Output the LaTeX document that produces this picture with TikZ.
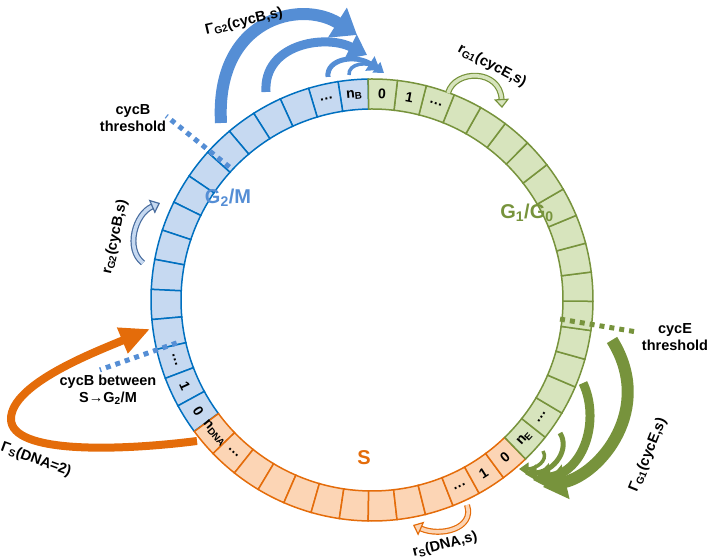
\documentclass[tikz,border=0pt]{standalone}
\usepackage{fontspec}
\setmainfont{Liberation Sans}
\usetikzlibrary{arrows.meta}

\definecolor{blueline}{RGB}{0,112,192}
\definecolor{bluefill}{RGB}{198,217,241}
\definecolor{bluearrow}{RGB}{85,142,213}
\definecolor{bluedark}{RGB}{72,108,158}
\definecolor{greenline}{RGB}{119,147,60}
\definecolor{greenfill}{RGB}{215,228,189}
\definecolor{orangeline}{RGB}{228,108,10}
\definecolor{orangefill}{RGB}{252,213,181}

% one cell of the ring: style, start angle, width in degrees
\newcommand\ringcell[3]{%
  \draw[#1] ({#2}:191) -- ({#2}:221)
    arc[start angle={#2},delta angle={#3},radius=221pt]
    -- ({#2+#3}:191)
    arc[start angle={#2+#3},delta angle={-#3},radius=191pt] -- cycle;}

\tikzset{
  cellB/.style={draw=blueline,fill=bluefill,line width=1.5pt},
  cellS/.style={draw=orangeline,fill=orangefill,line width=1.5pt},
  cellG/.style={draw=greenline,fill=greenfill,line width=1.5pt},
  celltext/.style={font=\fontsize{14}{14}\selectfont\bfseries,inner sep=0pt},
  lbl/.style={font=\fontsize{14.5}{17}\selectfont\bfseries,align=center,inner sep=0pt},
  phase/.style={font=\fontsize{20}{20}\selectfont\bfseries,inner sep=0pt},
  thresh/.style={line width=5pt,dash pattern=on 5pt off 5pt},
  leap/.style={line width=#1,-{Triangle[length=4pt 1.6,width=4pt 2.5]}},
  hollow/.style 2 args={draw=#1,double=#2,line width=1.2pt,double distance=3.6pt,
    -{Triangle[length=9pt,width=15pt,fill=#2,line width=1.2pt]}}
}

\begin{document}
\begin{tikzpicture}[x=1pt,y=1pt]
  \useasboundingbox (0,0) rectangle (711,559);

  % cell ring: G2/M, S, G1/G0
  \begin{scope}[shift={(372,259)}]
    \foreach \i [evaluate=\i as \a using 91+\i*7.84] in {0,...,15}
      {\ringcell{cellB}{\a}{7.84}}
    \foreach \i [evaluate=\i as \a using 216.5+\i*7.5] in {0,...,12}
      {\ringcell{cellS}{\a}{7.5}}
    \foreach \i [evaluate=\i as \a using 314+\i*7.6111] in {0,...,17}
      {\ringcell{cellG}{\a}{7.6111}}

    \foreach \a/\t/\n in {94.92/n\textsubscript{B}/nB, 102.76/…/bB, 196.84/…/b2, 204.68/1/b1, 212.52/0/b0,
        87.19/0/g0, 79.58/1/g1, 71.97/…/g2, 325.42/…/gE, 317.81/n\textsubscript{E}/nE,
        310.25/0/s0, 302.75/1/s1, 295.25/…/s2, 227.75/…/sD, 220.25/n\textsubscript{DNA}/nDNA}
      \node[celltext,rotate={\a-90+180*(sin(\a)<0)}] (\n) at (\a:206) {\t};

    % thresholds
    \coordinate (thB1) at (137:195);
    \coordinate (thB2) at (138.2:276);
    \coordinate (thE1) at (-5.8:189);
    \coordinate (thE2) at (-6.9:268);
    \coordinate (thS1) at (192.4:200);
    \coordinate (thS2) at (194.4:281);
  \end{scope}

  \draw[thresh,bluearrow] (thB1) -- (thB2);
  \draw[thresh,greenline] (thE1) -- (thE2);
  \draw[thresh,bluearrow] (thS1) -- (thS2);

  \node[lbl] (thrB) at (133,441) {cycB\\threshold};
  \node[lbl] (thrE) at (675,222) {cycE\\threshold};
  \node[lbl] (betw) at (108,169) {cycB between\\S→G\textsubscript{2}/M};

  % phase names
  \node[phase,bluearrow] (G2M) at (228,361) {G\textsubscript{2}/M};
  \node[phase,greenline] (G1G0) at (527,346) {G\textsubscript{1}/G\textsubscript{0}};
  \node[phase,orangeline] (Sph) at (364,101) {S};

  % Gamma G2: leaving G2/M
  \coordinate (a1s) at (221,436); \coordinate (a1e) at (357,524);
  \coordinate (a2s) at (266,467); \coordinate (a2e) at (367,504);
  \coordinate (a3s) at (328,482); \coordinate (a3e) at (380,489);
  \coordinate (a4s) at (349,484); \coordinate (a4e) at (384,486);
  \draw[bluearrow,leap=12pt] (a1s) .. controls (215,540) and (300,560) .. (a1e);
  \draw[bluearrow,leap=9pt] (a2s) .. controls (263,515) and (325,525) .. (a2e);
  \draw[bluearrow,leap=5pt] (a3s) .. controls (326,500) and (355,505) .. (a3e);
  \draw[bluearrow,leap=3.5pt] (a4s) .. controls (348,496) and (368,498) .. (a4e);
  \node[lbl,rotate=13] (GamG2) at (244,537) {Γ\textsubscript{G2}(cycB,s)};

  % Gamma G1: leaving G1/G0
  \coordinate (b1s) at (612,219); \coordinate (b1e) at (543,72);
  \coordinate (b2s) at (583,176); \coordinate (b2e) at (533,79);
  \coordinate (b3s) at (560,126); \coordinate (b3e) at (525,85);
  \coordinate (b4s) at (543,108); \coordinate (b4e) at (519,90);
  \draw[greenline,leap=12pt] (b1s) .. controls (655,150) and (600,85) .. (b1e);
  \draw[greenline,leap=9pt] (b2s) .. controls (600,140) and (585,88) .. (b2e);
  \draw[greenline,leap=5pt] (b3s) .. controls (570,110) and (555,88) .. (b3e);
  \draw[greenline,leap=3.5pt] (b4s) .. controls (549,98) and (535,90) .. (b4e);
  \node[lbl,rotate=68] (GamG1) at (648,104) {Γ\textsubscript{G1}(cycE,s)};

  % Gamma S: DNA doubled
  \coordinate (cs) at (197,118); \coordinate (cm) at (11,140); \coordinate (ce) at (150,230);
  \draw[orangeline,line width=8pt,-{Triangle[length=30pt,width=26pt]}]
    (cs) .. controls (118,108) and (11,105) .. (cm)
         .. controls (11,175) and (95,207) .. (ce);
  \node[lbl,rotate=-20] (GamS) at (36,99) {Γ\textsubscript{S}(DNA=2)};

  % rates inside a phase
  \coordinate (rBs) at (143,296); \coordinate (rBe) at (160,356);
  \coordinate (rEs) at (448,466); \coordinate (rEe) at (502,451);
  \coordinate (rSs) at (467,54); \coordinate (rSe) at (413,34);
  \draw[hollow={bluedark}{bluefill}] (rBs) .. controls (125,310) and (135,345) .. (rBe);
  \draw[hollow={greenline}{greenfill}] (rEs) .. controls (455,490) and (500,490) .. (rEe);
  \draw[hollow={orangeline}{orangefill}] (rSs) .. controls (475,30) and (440,22) .. (rSe);
  \node[lbl,rotate=78] (rG2) at (115,322) {r\textsubscript{G2}(cycB,s)};
  \node[lbl,rotate=-28] (rG1) at (492,493) {r\textsubscript{G1}(cycE,s)};
  \node[lbl,rotate=14] (rS) at (445,14) {r\textsubscript{S}(DNA,s)};
\end{tikzpicture}
\end{document}
